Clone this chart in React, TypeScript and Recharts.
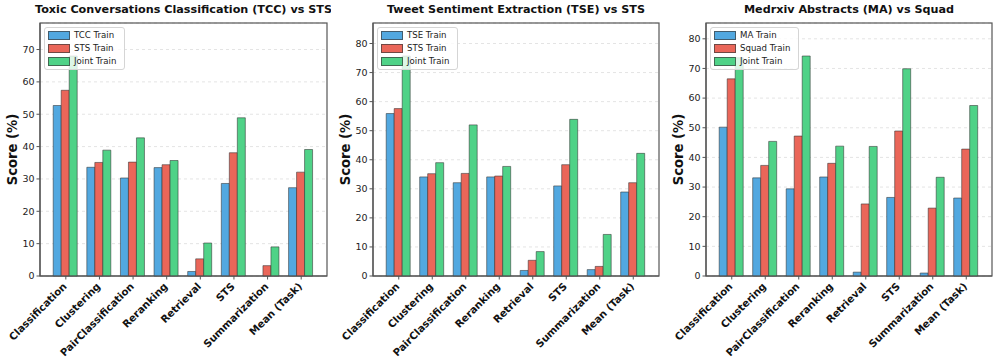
import { BarChart, Bar, XAxis, YAxis, CartesianGrid, Legend } from "recharts";

const categories = [
  "Classification",
  "Clustering",
  "PairClassification",
  "Reranking",
  "Retrieval",
  "STS",
  "Summarization",
  "Mean (Task)",
];

// Toxic Conversations Classification vs STS
const tccTrain = [52.7, 33.6, 30.3, 33.5, 1.4, 28.6, 0, 27.3];
const tccStsTrain = [57.4, 35.1, 35.2, 34.4, 5.3, 38.1, 3.2, 32.1];
const tccJointTrain = [68.0, 38.9, 42.7, 35.7, 10.2, 48.9, 9.0, 39.1];

// Tweet Sentiment Extraction vs STS
const tseTrain = [55.9, 34.1, 32.1, 34.1, 1.9, 31.0, 2.2, 28.9];
const tseStsTrain = [57.6, 35.2, 35.3, 34.4, 5.4, 38.3, 3.3, 32.1];
const tseJointTrain = [75.7, 39.0, 52.0, 37.7, 8.4, 53.9, 14.3, 42.2];

// Medrxiv Abstracts vs Squad
const maTrain = [50.2, 33.1, 29.4, 33.4, 1.3, 26.5, 1.0, 26.3];
const squadTrain = [66.5, 37.3, 47.2, 38.0, 24.3, 48.9, 22.9, 42.8];
const maJointTrain = [73.6, 45.4, 74.2, 43.8, 43.7, 69.9, 33.3, 57.5];

const ticks70 = [0, 10, 20, 30, 40, 50, 60, 70];
const ticks80 = [0, 10, 20, 30, 40, 50, 60, 70, 80];

const COLORS = ["#52a8e0", "#ea6659", "#4fd287"];
const FONT = "'DejaVu Sans', sans-serif";
const SPINE = "#555";

function XTick(props: any) {
  const { x, payload, axisY } = props;
  return (
    <g transform={`translate(${x + 1.5},${axisY + 11})`}>
      <text
        textAnchor="end"
        transform="rotate(-45)"
        fontFamily={FONT}
        fontWeight="bold"
        fontSize={10.2}
        fill="#111"
      >
        {payload.value}
      </text>
    </g>
  );
}

function LegendBox({ names }: { names: string[] }) {
  return (
    <div
      style={{
        background: "rgba(255,255,255,0.8)",
        border: "1px solid #d5d5d5",
        borderRadius: 3,
        padding: "1px 8px 1px 3px",
        fontFamily: FONT,
        fontSize: 8.6,
        color: "#222",
        lineHeight: "13px",
      }}
    >
      {names.map((n, i) => (
        <div key={n} style={{ display: "flex", alignItems: "center", height: 13 }}>
          <span
            style={{
              display: "inline-block",
              width: 20,
              height: 7,
              background: COLORS[i],
              border: "0.8px solid rgba(60,60,60,0.7)",
              marginRight: 4,
            }}
          />
          {n}
        </div>
      ))}
    </div>
  );
}

type PanelProps = {
  title: string;
  names: string[];
  s1: number[];
  s2: number[];
  s3: number[];
  ticks: number[];
  left: number;
  width: number;
};

function Panel({ title, names, s1, s2, s3, ticks, left, width }: PanelProps) {
  const data = categories.map((name, i) => ({ name, s1: s1[i], s2: s2[i], s3: s3[i] }));
  const yMax = Math.max(...s1, ...s2, ...s3) * 1.15;
  const plotLeft = 40;
  const plotRight = width - 4;
  const plotTop = 23;
  const plotBottom = 276;
  const barStroke = "rgba(50,50,50,0.55)";

  return (
    <div style={{ position: "absolute", left, top: 0 }}>
      <BarChart
        width={width}
        height={362}
        data={data}
        style={{ overflow: "visible" }}
        margin={{ top: plotTop, right: 4, bottom: 362 - plotBottom - 80, left: 0 }}
        barCategoryGap="12.5%"
        barGap={0}
      >
        <CartesianGrid vertical={false} strokeDasharray="3 3" stroke="#e4e4e4" />
        <XAxis
          dataKey="name"
          interval={0}
          height={80}
          padding={{ left: 9, right: 9 }}
          tick={<XTick axisY={plotBottom} />}
          tickSize={3.5}
          tickLine={{ stroke: SPINE }}
          axisLine={{ stroke: SPINE, strokeWidth: 1.2 }}
        />
        <YAxis
          width={plotLeft}
          domain={[0, yMax]}
          ticks={ticks}
          tickSize={3.5}
          tickLine={{ stroke: SPINE }}
          axisLine={{ stroke: SPINE, strokeWidth: 1.2 }}
          tick={{ fontFamily: FONT, fontSize: 9.5, fill: "#222" }}
        />
        <Bar dataKey="s1" name={names[0]} fill={COLORS[0]} stroke={barStroke} strokeWidth={1} isAnimationActive={false} />
        <Bar dataKey="s2" name={names[1]} fill={COLORS[1]} stroke={barStroke} strokeWidth={1} isAnimationActive={false} />
        <Bar dataKey="s3" name={names[2]} fill={COLORS[2]} stroke={barStroke} strokeWidth={1} isAnimationActive={false} />
        <Legend
          layout="horizontal"
          verticalAlign="middle"
          align="center"
          wrapperStyle={{ left: plotLeft + 4, top: plotTop + 4, width: "auto" }}
          content={() => <LegendBox names={names} />}
        />
        <rect
          x={plotLeft}
          y={plotTop}
          width={plotRight - plotLeft}
          height={plotBottom - plotTop}
          fill="none"
          stroke={SPINE}
          strokeWidth={1.2}
        />
        <text
          x={(plotLeft + plotRight) / 2}
          y={12.5}
          textAnchor="middle"
          fontFamily={FONT}
          fontWeight="bold"
          fontSize={11.2}
          fill="#111"
        >
          {title}
        </text>
        <text
          x={17}
          y={(plotTop + plotBottom) / 2}
          textAnchor="middle"
          transform={`rotate(-90, 17, ${(plotTop + plotBottom) / 2})`}
          fontFamily={FONT}
          fontWeight="bold"
          fontSize={13.2}
          fill="#111"
        >
          Score (%)
        </text>
      </BarChart>
    </div>
  );
}

export default function App() {
  return (
    <div style={{ position: "absolute", left: 0, top: 0, width: 997, height: 362, background: "#fff" }}>
      <Panel
        title="Toxic Conversations Classification (TCC) vs STS"
        names={["TCC Train", "STS Train", "Joint Train"]}
        s1={tccTrain}
        s2={tccStsTrain}
        s3={tccJointTrain}
        ticks={ticks70}
        left={0}
        width={331}
      />
      <Panel
        title="Tweet Sentiment Extraction (TSE) vs STS"
        names={["TSE Train", "STS Train", "Joint Train"]}
        s1={tseTrain}
        s2={tseStsTrain}
        s3={tseJointTrain}
        ticks={ticks80}
        left={333}
        width={330}
      />
      <Panel
        title="Medrxiv Abstracts (MA) vs Squad"
        names={["MA Train", "Squad Train", "Joint Train"]}
        s1={maTrain}
        s2={squadTrain}
        s3={maJointTrain}
        ticks={ticks80}
        left={666}
        width={330}
      />
    </div>
  );
}
